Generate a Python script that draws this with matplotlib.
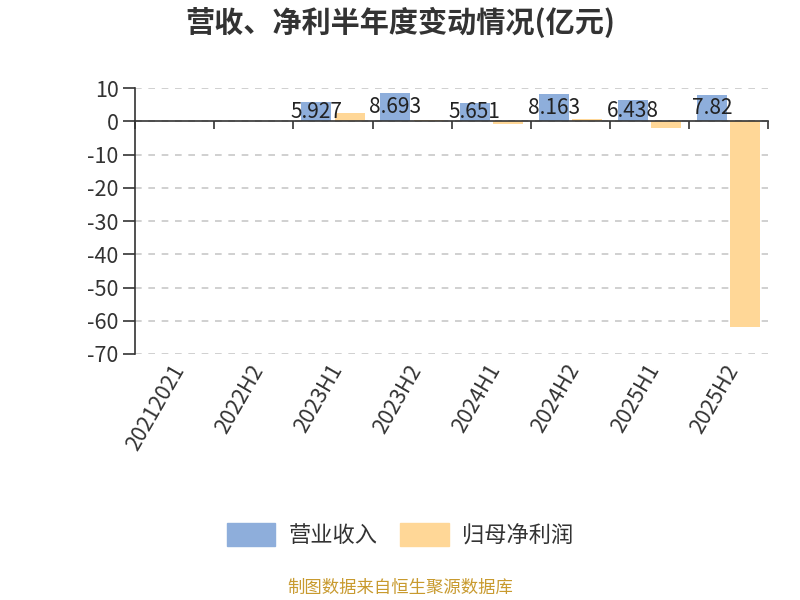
import numpy as np
import matplotlib
matplotlib.use("Agg")
import matplotlib.pyplot as plt
from matplotlib.transforms import blended_transform_factory

plt.rcParams['font.family'] = ['Noto Sans CJK SC', 'DejaVu Sans']
plt.rcParams['axes.unicode_minus'] = False

periods = ["20212021", "2022H2", "2023H1", "2023H2", "2024H1", "2024H2", "2025H1", "2025H2"]
revenue = [np.nan, np.nan, 5.927, 8.693, 5.651, 8.163, 6.438, 7.82]
net_profit = [np.nan, np.nan, 2.5, 0.4, -0.8, 0.8, -2.0, -62.0]

blue = "#8eaedb"
orange = "#ffd797"
dark = "#333333"

fig = plt.figure(figsize=(8, 6), dpi=100)
ax = fig.add_axes([0.169, 0.41, 0.791, 0.443])

x = np.arange(len(periods))
w = 0.38
ax.bar(x - w / 2 - 0.02, revenue, width=w, color=blue, zorder=3)
ax.bar(x + w / 2 + 0.02, net_profit, width=w, color=orange, zorder=3)

# value labels centered in the revenue bars
for xi, v in zip(x, revenue):
    if not np.isnan(v):
        ax.text(xi - w / 2 - 0.02, v / 2, f"{v:g}", ha="center", va="center",
                fontsize=15, color="#222222", zorder=4)

ax.set_xlim(-0.5, len(periods) - 0.5)
ax.set_ylim(-70, 10)
ax.set_yticks(np.arange(-70, 11, 10))
ax.yaxis.grid(True, linestyle=(0, (4, 4)), color="#c8c8c8", linewidth=1.2, zorder=0)

# x axis line sits at zero, category labels stay at the bottom
ax.spines["bottom"].set_position(("data", 0))
ax.spines["bottom"].set_color(dark)
ax.spines["bottom"].set_linewidth(1.2)
ax.spines["bottom"].set_zorder(5)
ax.set_xticks(np.arange(-0.5, len(periods), 1))
ax.set_xticklabels([])
ax.tick_params(axis="x", length=6, width=1.2, color=dark)
trans = blended_transform_factory(ax.transData, ax.transAxes)
for xi, lab in zip(x, periods):
    ax.text(xi - 0.06, -0.025, lab, transform=trans, rotation=60, ha="right", va="top",
            rotation_mode="anchor", fontsize=15.5, color=dark)

ax.tick_params(axis="y", length=9, width=1.2, labelsize=15.5, labelcolor=dark, color=dark, pad=3)

for s in ["top", "right"]:
    ax.spines[s].set_visible(False)
ax.spines["left"].set_color(dark)
ax.spines["left"].set_linewidth(1.2)

fig.text(0.5, 0.962, "营收、净利半年度变动情况(亿元)", ha="center", va="center",
         fontsize=21, fontweight="bold", color=dark)

handles = [plt.Rectangle((0, 0), 1, 1, color=blue), plt.Rectangle((0, 0), 1, 1, color=orange)]
fig.legend(handles, ["营业收入", "归母净利润"], loc="center", bbox_to_anchor=(0.5, 0.108),
           ncol=2, frameon=False, fontsize=16, handlelength=2.2, handleheight=1.2,
           columnspacing=1.0, handletextpad=0.6, labelcolor=dark)

fig.text(0.5, 0.02, "制图数据来自恒生聚源数据库", ha="center", va="center",
         fontsize=12.5, color="#c89a2e")

fig.savefig("out.png", dpi=100)
